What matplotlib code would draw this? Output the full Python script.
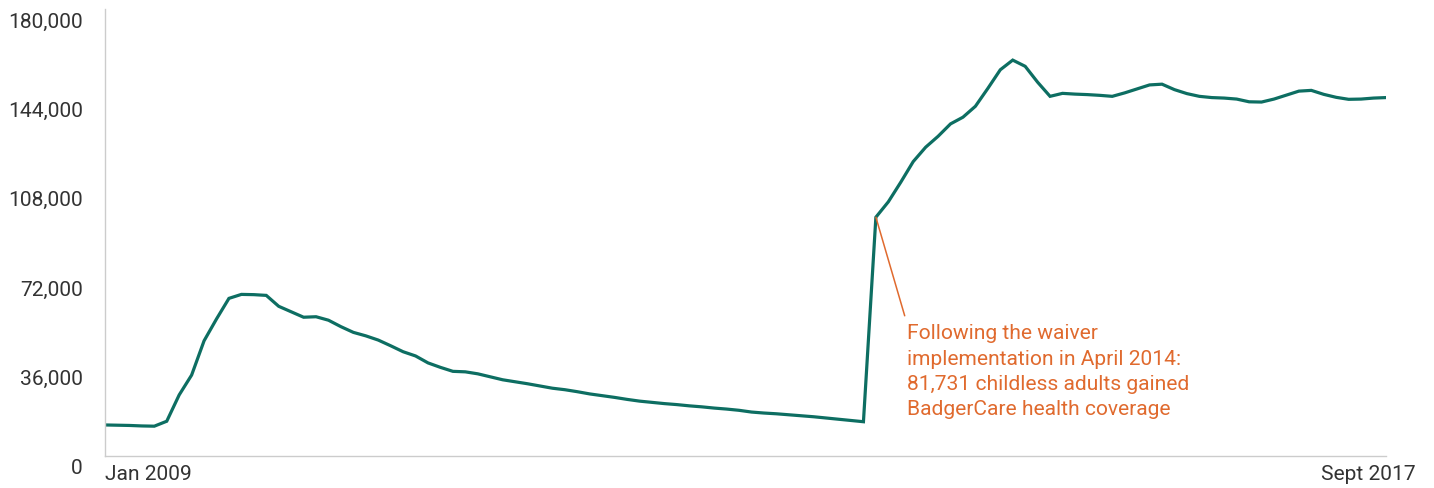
import matplotlib.pyplot as plt
import matplotlib.transforms as mtransforms
from matplotlib.ticker import FuncFormatter

# Childless adults enrolled in BadgerCare, monthly (thousands)
enrollment_k = [
    12.4, 12.3, 12.2, 12.0, 11.9, 13.9, 24.5, 32.5, 46.3, 55.1,
    63.4, 65.0, 64.9, 64.6, 60.2, 58.0, 55.8, 56.0, 54.6, 52.0,
    49.7, 48.3, 46.6, 44.3, 41.9, 40.2, 37.4, 35.6, 34.0, 33.8,
    33.0, 31.8, 30.6, 29.8, 29.0, 28.1, 27.2, 26.6, 25.8, 24.9,
    24.2, 23.5, 22.7, 22.0, 21.5, 21.0, 20.6, 20.1, 19.7, 19.2,
    18.8, 18.3, 17.6, 17.2, 16.9, 16.5, 16.1, 15.7, 15.2, 14.7,
    14.2, 13.7, 96.1, 102.3, 110.2, 118.5, 124.3, 128.7, 133.7, 136.4,
    140.8, 148.0, 155.5, 159.4, 156.9, 150.5, 144.8, 146.0, 145.7, 145.5,
    145.2, 144.8, 146.2, 147.8, 149.4, 149.7, 147.5, 145.9, 144.8, 144.3,
    144.1, 143.7, 142.6, 142.5, 143.7, 145.3, 146.9, 147.2, 145.6, 144.4,
    143.6, 143.7, 144.1, 144.3,
]
enrollment = [v * 1000 for v in enrollment_k]
months = list(range(len(enrollment)))

y_ticks = [0, 36000, 72000, 108000, 144000, 180000]
x_tick_labels = ["Jan 2009", "Sept 2017"]
waiver_month = 62
note = ("Following the waiver\n"
        "implementation in April 2014:\n"
        "81,731 childless adults gained\n"
        "BadgerCare health coverage")

plt.rcParams['font.family'] = ['Roboto', 'DejaVu Sans']

fig = plt.figure(figsize=(14.34, 4.89), dpi=100)
ax = fig.add_axes([0.0729, 0.066, 0.8936, 0.9136])

ax.plot(months, enrollment, color='#0d6e62', linewidth=2.3, solid_joinstyle='miter')

ax.set_xlim(0, months[-1])
ax.set_ylim(0, 180000)

ax.set_yticks(y_ticks)
ax.yaxis.set_major_formatter(FuncFormatter(lambda v, p: f"{int(v):,}"))
ax.tick_params(axis='y', length=0, pad=15.5, labelsize=15.1, labelcolor='#333333')
shift_down = mtransforms.ScaledTranslation(0, -0.10, fig.dpi_scale_trans)
for lab in ax.get_yticklabels():
    lab.set_transform(lab.get_transform() + shift_down)

ax.set_xticks([months[0], months[-1]])
ax.set_xticklabels(x_tick_labels)
ax.tick_params(axis='x', length=0, pad=6, labelsize=15.1, labelcolor='#333333')
xl = ax.get_xticklabels()
xl[0].set_ha('left')
xl[1].set_ha('right')
xl[1].set_transform(xl[1].get_transform()
                    + mtransforms.ScaledTranslation(0.30, 0, fig.dpi_scale_trans))

for side in ['top', 'right']:
    ax.spines[side].set_visible(False)
for side in ['left', 'bottom']:
    ax.spines[side].set_color('#cccccc')
    ax.spines[side].set_linewidth(1.0)

# leader line runs from the April 2014 point down to the note
ax.annotate(note, xy=(waiver_month, enrollment[waiver_month]),
            xytext=(31, -106), textcoords='offset pixels',
            ha='left', va='top', fontsize=15.1, color='#e06a2e', linespacing=1.42,
            arrowprops=dict(arrowstyle='-', color='#e06a2e', lw=1.1,
                            shrinkA=3.5, shrinkB=0, relpos=(0, 1)))

fig.savefig('out.png', dpi=100)
